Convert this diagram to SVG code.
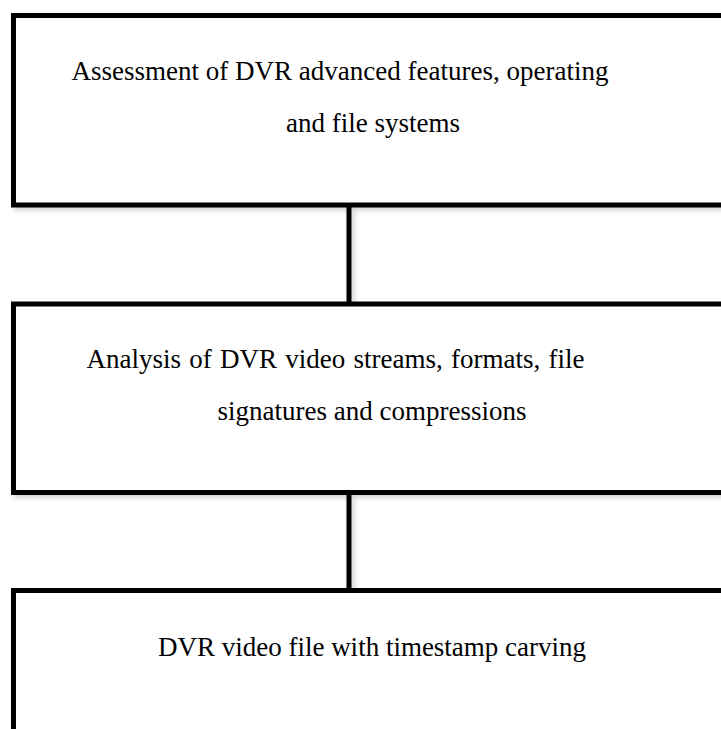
<svg xmlns="http://www.w3.org/2000/svg" width="721" height="729" viewBox="0 0 721 729">
<defs>
<filter id="sh" filterUnits="userSpaceOnUse" x="0" y="0" width="800" height="800">
<feDropShadow dx="3" dy="3" stdDeviation="2.5" flood-color="#000" flood-opacity="0.18"/>
</filter>
<style>
.box{fill:#fff;stroke:#000;stroke-width:5}
.t{font-family:"Liberation Serif","Times New Roman",serif;font-size:27px;fill:#000;text-anchor:middle}
.c{stroke:#000;stroke-width:5;fill:none}
</style>
</defs>
<rect width="721" height="729" fill="#fff"/>
<g id="connectors" filter="url(#sh)">
<line class="c" x1="349" y1="207" x2="349" y2="302"/>
<line class="c" x1="349" y1="495" x2="349" y2="588"/>
</g>
<g id="node1">
<rect class="box" x="13.5" y="15.5" width="730" height="189.5" filter="url(#sh)"/>
<text class="t" x="340" y="80">Assessment of DVR advanced features, operating</text>
<text class="t" x="373" y="132">and file systems</text>
</g>
<g id="node2">
<rect class="box" x="13.5" y="304" width="730" height="188.5" filter="url(#sh)"/>
<text class="t" x="335.5" y="368" word-spacing="1.5">Analysis of DVR video streams, formats, file</text>
<text class="t" x="372" y="420">signatures and compressions</text>
</g>
<g id="node3">
<rect class="box" x="13.5" y="590.5" width="730" height="200" filter="url(#sh)"/>
<text class="t" x="372" y="656">DVR video file with timestamp carving</text>
</g>
</svg>
